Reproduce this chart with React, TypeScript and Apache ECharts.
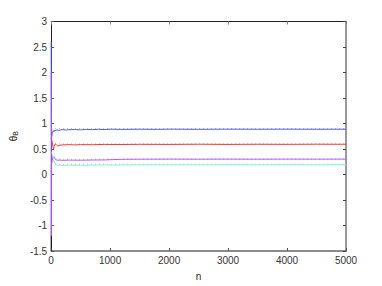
import React, { useEffect, useRef } from "react";
import * as echarts from "echarts";

const xTicks = [0, 1000, 2000, 3000, 4000, 5000];
const yTicks = [-1.5, -1, -0.5, 0, 0.5, 1, 1.5, 2, 2.5, 3];

const blueData: [number, number][] = [
  [0, 2.6], [5, 0.7], [10, 0.74], [20, 0.8], [30, 0.84], [40, 0.86], [50, 0.84], [60, 0.87],
  [80, 0.86], [100, 0.875], [130, 0.865], [160, 0.875], [200, 0.88], [250, 0.872], [300, 0.878],
  [400, 0.882], [500, 0.876], [600, 0.884], [700, 0.88], [800, 0.886], [900, 0.882], [1000, 0.888],
  [1200, 0.884], [1500, 0.888], [1800, 0.885], [2000, 0.889], [2500, 0.886], [3000, 0.889],
  [3500, 0.887], [4000, 0.889], [4500, 0.887], [5000, 0.888],
];
const redData: [number, number][] = [
  [2, 0.7], [10, 0.68], [20, 0.62], [30, 0.55], [40, 0.5], [50, 0.55], [70, 0.6], [90, 0.58],
  [110, 0.56], [150, 0.575], [200, 0.58], [300, 0.585], [400, 0.58], [500, 0.586], [700, 0.584],
  [900, 0.59], [1200, 0.588], [1500, 0.592], [2000, 0.59], [2500, 0.594], [3000, 0.59],
  [3500, 0.593], [4000, 0.591], [4500, 0.594], [5000, 0.593],
];
const magentaData: [number, number][] = [
  [0, 2.0], [1, -1.2], [3, 0.2], [10, 0.22], [20, 0.28], [30, 0.33], [45, 0.35], [60, 0.32],
  [80, 0.29], [100, 0.28], [150, 0.282], [200, 0.278], [300, 0.282], [500, 0.28], [700, 0.284],
  [900, 0.285], [1000, 0.29], [1200, 0.298], [1500, 0.3], [2000, 0.302], [2500, 0.3],
  [3000, 0.302], [3500, 0.3], [4000, 0.302], [4500, 0.301], [5000, 0.302],
];
const cyanData: [number, number][] = [
  [2, 0.45], [10, 0.42], [20, 0.38], [30, 0.3], [50, 0.25], [80, 0.2], [100, 0.18],
  [150, 0.182], [200, 0.178], [300, 0.182], [500, 0.18], [700, 0.184], [1000, 0.185],
  [1500, 0.188], [2000, 0.19], [2500, 0.189], [3000, 0.191], [3500, 0.19], [4000, 0.191],
  [4500, 0.19], [5000, 0.191],
];
const blackData: [number, number][] = [[0, -1.2], [0, -1.5]];
const trueValues = [0.9, 0.6, 0.3, 0.2];

export default function App() {
  const ref = useRef<HTMLDivElement>(null);
  useEffect(() => {
    if (!ref.current) return;
    const chart = echarts.init(ref.current, undefined, { renderer: "svg" });
    const font = "Liberation Sans, Arial, sans-serif";
    const lineSeries = (data: [number, number][], color: string, z = 2) => ({
      type: "line",
      data,
      showSymbol: false,
      symbol: "none",
      lineStyle: { color, width: 1 },
      z,
    });
    chart.setOption({
      animation: false,
      grid: { left: 49, right: 36, top: 21.5, bottom: 33 },
      xAxis: [
        {
          type: "value",
          min: 0,
          max: 5000,
          interval: 1000,
          name: "n",
          nameLocation: "middle",
          nameGap: 20,
          nameTextStyle: { fontFamily: font, fontSize: 10, color: "#222" },
          axisLine: { onZero: false, lineStyle: { color: "#666", width: 1.5 } },
          axisTick: { inside: true, length: 3, lineStyle: { color: "#555" } },
          axisLabel: {
            fontFamily: font,
            fontSize: 10,
            color: "#333",
            margin: 4,
            formatter: (v: number) => (xTicks.includes(v) ? String(v) : ""),
          },
          splitLine: { show: false },
        },
        {
          type: "value",
          position: "top",
          min: 0,
          max: 5000,
          interval: 1000,
          axisLine: { onZero: false, lineStyle: { color: "#222", width: 1 } },
          axisTick: { inside: true, length: 3, lineStyle: { color: "#888" } },
          axisLabel: { show: false },
          splitLine: { show: false },
        },
      ],
      yAxis: [
        {
          type: "value",
          min: -1.5,
          max: 3,
          interval: 0.5,
          name: "{a|θ}{b|B}",
          nameLocation: "middle",
          nameGap: 31,
          nameRotate: 90,
          nameTextStyle: {
            fontFamily: font,
            rich: {
              a: { fontSize: 10, color: "#222", fontFamily: font },
              b: { fontSize: 7, color: "#222", fontFamily: font, padding: [5, 0, 0, 0] },
            },
          },
          axisLine: { onZero: false, lineStyle: { color: "#222", width: 1 } },
          axisTick: { inside: true, length: 3, lineStyle: { color: "#555" } },
          axisLabel: {
            fontFamily: font,
            fontSize: 10,
            color: "#333",
            margin: 4,
            formatter: (v: number) => (yTicks.includes(v) ? String(v) : ""),
          },
          splitLine: { show: false },
        },
        {
          type: "value",
          position: "right",
          min: -1.5,
          max: 3,
          interval: 0.5,
          axisLine: { onZero: false, lineStyle: { color: "#777", width: 1.5 } },
          axisTick: { inside: true, length: 3, lineStyle: { color: "#444" } },
          axisLabel: { show: false },
          splitLine: { show: false },
        },
      ],
      series: [
        ...trueValues.map((v) => ({
          type: "line",
          data: [[xTicks[0], v], [xTicks[xTicks.length - 1], v]],
          showSymbol: false,
          symbol: "none",
          lineStyle: { color: "#9a9a9a", width: 0.7, type: [1, 3] },
          z: 1,
        })),
        lineSeries(cyanData, "#7ff5dc", 2),
        lineSeries(redData, "#f03a3a", 3),
        lineSeries(blueData, "#4a5cff", 4),
        lineSeries(magentaData, "#b35cff", 5),
        lineSeries(blackData, "#222", 6),
      ],
    });
    return () => chart.dispose();
  }, []);
  return (
    <div
      ref={ref}
      style={{ position: "fixed", left: 0, top: 0, width: 382, height: 286, background: "#fff" }}
    />
  );
}
